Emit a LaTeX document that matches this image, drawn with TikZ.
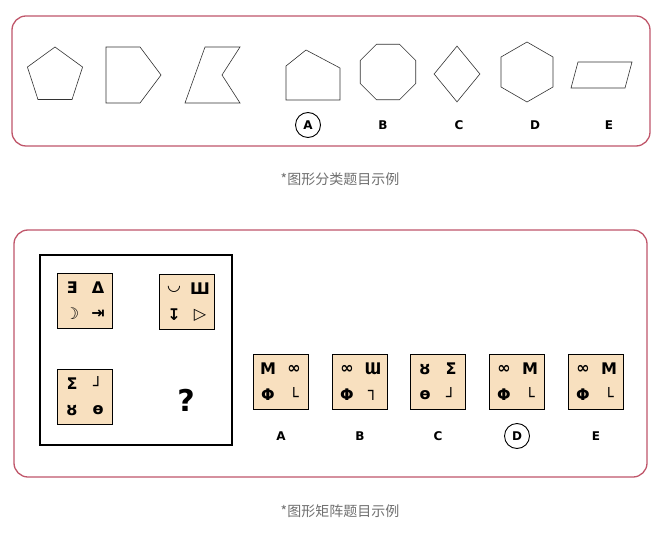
\documentclass[tikz,border=0pt]{standalone}
\usepackage{fontspec}
\setmainfont{DejaVu Sans}
\newfontfamily\cjk{Noto Sans CJK SC}
\usetikzlibrary{shapes.geometric}
\definecolor{frame}{HTML}{C0566A}
\definecolor{tile}{HTML}{F8E0BF}
\definecolor{capgray}{HTML}{707070}
\tikzset{
  panel/.style={draw=frame, line width=1.3pt, rounded corners=14pt},
  shp/.style={draw=black!80, line width=0.6pt},
  card/.style={draw=black, line width=1.6pt, fill=tile, minimum size=55pt, inner sep=0pt},
  sym/.style={font=\fontsize{16}{16}\selectfont\bfseries, inner sep=0pt},
  lab/.style={font=\fontsize{12}{12}\selectfont\bfseries},
  ring/.style={lab, draw, circle, line width=0.9pt, minimum size=25pt, inner sep=0pt},
  caption/.style={font=\cjk\fontsize{14}{14}\selectfont, text=capgray}
}
\newcommand{\cardsym}[5]{% name, tl, tr, bl, br
  \node[sym] at ([shift={(-13pt,13pt)}]#1.center) {#2};
  \node[sym] at ([shift={(13pt,13pt)}]#1.center) {#3};
  \node[sym] at ([shift={(-13pt,-13pt)}]#1.center) {#4};
  \node[sym] at ([shift={(13pt,-13pt)}]#1.center) {#5};}
\begin{document}
\begin{tikzpicture}[x=1pt,y=-1pt]
\useasboundingbox[fill=white] (0,0) rectangle (660,534);
% classification panel
\draw[panel] (12,16) rectangle (650,146);
\node[shp, regular polygon, regular polygon sides=5, minimum size=58pt] (pent) at (55,76) {};
\draw[shp] (106,47) -- (140,47) -- (161,75) -- (140,103) -- (106,103) -- cycle;
\draw[shp] (205,47) -- (240,47) -- (222,75) -- (240,103) -- (185,103) -- cycle;
\draw[shp] (286,100) -- (286,66) -- (306,50) -- (340,68) -- (340,100) -- cycle;
\node[shp, regular polygon, regular polygon sides=8, minimum size=60pt] (oct) at (388,72) {};
\node[shp, diamond, minimum width=46pt, minimum height=56pt] (dia) at (457,74) {};
\node[shp, regular polygon, regular polygon sides=6, minimum size=60pt, rotate=30] (hex) at (527,72) {};
\draw[shp] (578,62) -- (632,62) -- (625,88) -- (571,88) -- cycle;
\node[ring] (pA) at (308,125) {A};
\node[lab] (pB) at (383,125) {B};
\node[lab] (pC) at (459,125) {C};
\node[lab] (pD) at (535,125) {D};
\node[lab] (pE) at (609,125) {E};
\node[caption] (cap1) at (340,179) {*图形分类题目示例};
% matrix panel
\draw[panel] (14,230) rectangle (647,477);
\draw[line width=2pt] (40,255) rectangle (232,445);
\node[card] (m1) at (85,301) {};
\node[card] (m2) at (187,302) {};
\node[card] (m3) at (85,397) {};
\node[font=\fontsize{30}{30}\selectfont\bfseries] (qm) at (186,400) {?};
\cardsym{m1}{Ǝ}{Δ}{☽}{⇥}
\cardsym{m2}{◡}{Ш}{↧}{▷}
\cardsym{m3}{Σ}{┘}{ȣ}{ө}
\foreach \n/\x in {A/281,B/360,C/438,D/517,E/596}
  \node[card] (c\n) at (\x,382) {};
\cardsym{cA}{M}{∞}{Φ}{└}
\cardsym{cB}{∞}{Ɯ}{Φ}{┐}
\cardsym{cC}{ȣ}{Σ}{ө}{┘}
\cardsym{cD}{∞}{M}{Φ}{└}
\cardsym{cE}{∞}{M}{Φ}{└}
\node[lab] (lA) at (281,436) {A};
\node[lab] (lB) at (360,436) {B};
\node[lab] (lC) at (438,436) {C};
\node[ring] (lD) at (517,436) {D};
\node[lab] (lE) at (596,436) {E};
\node[caption] (cap2) at (340,511) {*图形矩阵题目示例};
\end{tikzpicture}
\end{document}
